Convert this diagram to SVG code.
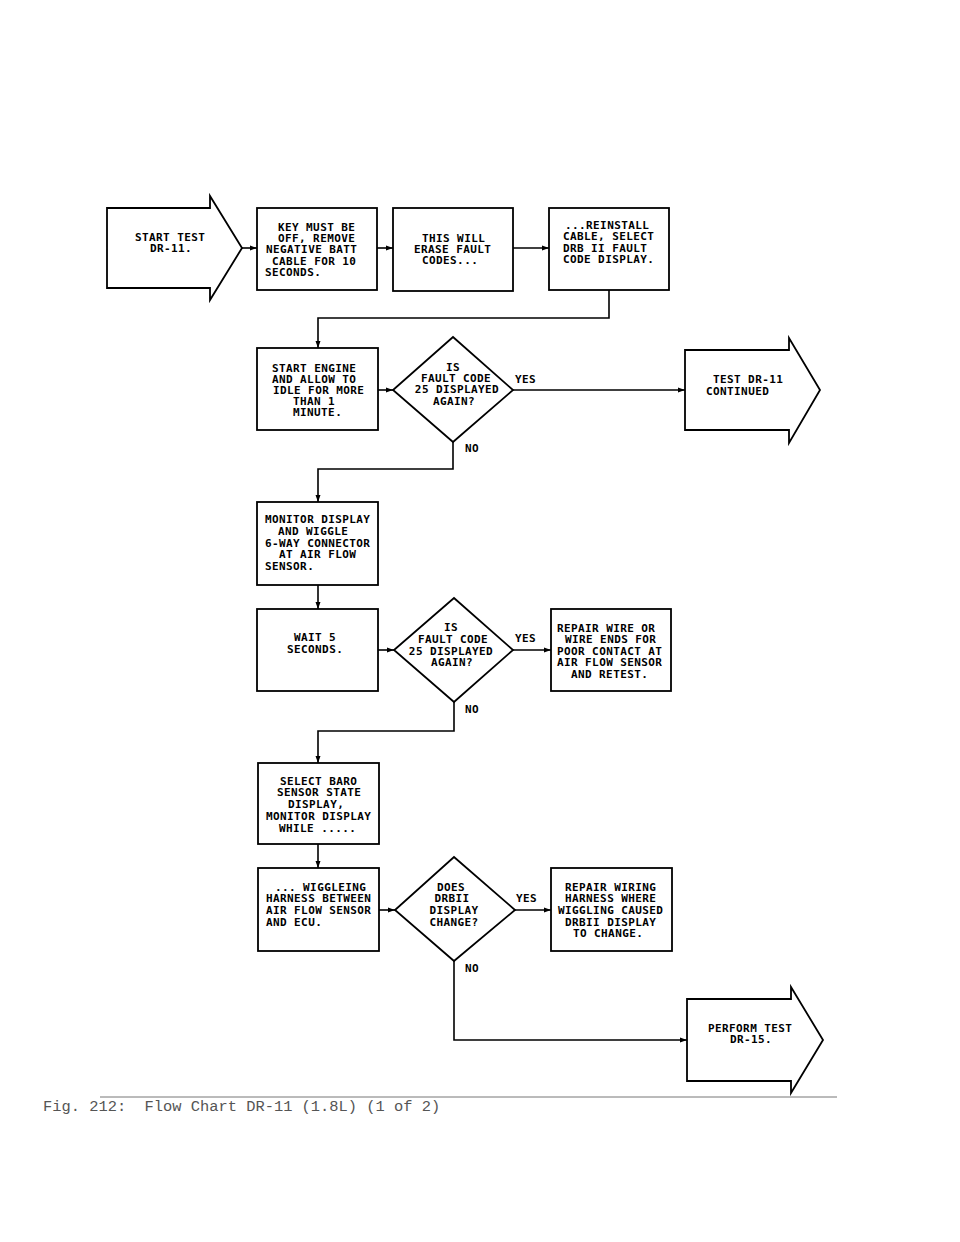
<svg xmlns="http://www.w3.org/2000/svg" width="960" height="1242" viewBox="0 0 960 1242">
<style>
.s{fill:#fff;stroke:#000;stroke-width:1.8;stroke-linejoin:miter}
.c{fill:none;stroke:#000;stroke-width:1.6}
.t{font-family:"DejaVu Sans Mono","Liberation Mono",monospace;font-size:11px;font-weight:bold;letter-spacing:0.4px;fill:#000}
.m{text-anchor:middle}
.cap{font-family:"Liberation Mono","Courier New",monospace;font-size:15.4px;fill:#555}
</style>
<defs>
<marker id="ah" markerUnits="userSpaceOnUse" markerWidth="8" markerHeight="6" refX="7" refY="3" orient="auto">
<path d="M0,0.5 L7,3 L0,5.5 Z" fill="#000"/>
</marker>
</defs>
<rect width="960" height="1242" fill="#fff"/>

<g id="connectors">
<path class="c" d="M242,248 H257" marker-end="url(#ah)"/>
<path class="c" d="M377,248 H393" marker-end="url(#ah)"/>
<path class="c" d="M513,248 H549" marker-end="url(#ah)"/>
<path class="c" d="M609,290 V318 H318 V348" marker-end="url(#ah)"/>
<path class="c" d="M378,390 H393" marker-end="url(#ah)"/>
<path class="c" d="M513,390 H685" marker-end="url(#ah)"/>
<path class="c" d="M453,442 V469 H318 V502" marker-end="url(#ah)"/>
<path class="c" d="M318,585 V609" marker-end="url(#ah)"/>
<path class="c" d="M378,650 H394" marker-end="url(#ah)"/>
<path class="c" d="M513,650 H551" marker-end="url(#ah)"/>
<path class="c" d="M454,702 V731 H318 V763" marker-end="url(#ah)"/>
<path class="c" d="M318,844 V868" marker-end="url(#ah)"/>
<path class="c" d="M379,910 H395" marker-end="url(#ah)"/>
<path class="c" d="M515,910 H551" marker-end="url(#ah)"/>
<path class="c" d="M454,961 V1040 H687" marker-end="url(#ah)"/>
<text class="t" x="515" y="383">YES</text>
<text class="t" x="465" y="452">NO</text>
<text class="t" x="515" y="642">YES</text>
<text class="t" x="465" y="713">NO</text>
<text class="t" x="516" y="902">YES</text>
<text class="t" x="465" y="972">NO</text>
</g>

<g id="start">
<polygon class="s" points="107,208 210,208 210,196 242,248 210,300 210,288 107,288"/>
<text class="t" x="135" y="241">START TEST</text>
<text class="t" x="150" y="252">DR-11.</text>
</g>

<g id="box1">
<rect class="s" x="257" y="208" width="120" height="82"/>
<text class="t" x="278" y="231">KEY MUST BE</text>
<text class="t" x="278" y="242">OFF, REMOVE</text>
<text class="t" x="266" y="253">NEGATIVE BATT</text>
<text class="t" x="272" y="265">CABLE FOR 10</text>
<text class="t" x="265" y="276">SECONDS.</text>
</g>

<g id="box2">
<rect class="s" x="393" y="208" width="120" height="83"/>
<text class="t" x="422" y="242">THIS WILL</text>
<text class="t" x="414" y="253">ERASE FAULT</text>
<text class="t" x="422" y="264">CODES...</text>
</g>

<g id="box3">
<rect class="s" x="549" y="208" width="120" height="82"/>
<text class="t" x="565" y="229">...REINSTALL</text>
<text class="t" x="563" y="240">CABLE, SELECT</text>
<text class="t" x="563" y="252">DRB II FAULT</text>
<text class="t" x="563" y="263">CODE DISPLAY.</text>
</g>

<g id="box4">
<rect class="s" x="257" y="348" width="121" height="82"/>
<text class="t" x="272" y="372">START ENGINE</text>
<text class="t" x="272" y="383">AND ALLOW TO</text>
<text class="t" x="273" y="394">IDLE FOR MORE</text>
<text class="t" x="293" y="405">THAN 1</text>
<text class="t" x="293" y="416">MINUTE.</text>
</g>

<g id="dec1">
<polygon class="s" points="453,337 513,390 453,442 393,390"/>
<text class="t m" x="453" y="371">IS</text>
<text class="t m" x="456" y="382">FAULT CODE</text>
<text class="t m" x="457" y="393">25 DISPLAYED</text>
<text class="t m" x="454" y="405">AGAIN?</text>
</g>

<g id="cont">
<polygon class="s" points="685,350 789,350 789,338 820,390 789,443 789,430 685,430"/>
<text class="t" x="713" y="383">TEST DR-11</text>
<text class="t" x="706" y="395">CONTINUED</text>
</g>

<g id="box5">
<rect class="s" x="257" y="502" width="121" height="83"/>
<text class="t" x="265" y="523">MONITOR DISPLAY</text>
<text class="t" x="278" y="535">AND WIGGLE</text>
<text class="t" x="265" y="547">6-WAY CONNECTOR</text>
<text class="t" x="279" y="558">AT AIR FLOW</text>
<text class="t" x="265" y="570">SENSOR.</text>
</g>

<g id="box6">
<rect class="s" x="257" y="609" width="121" height="82"/>
<text class="t" x="294" y="641">WAIT 5</text>
<text class="t" x="287" y="653">SECONDS.</text>
</g>

<g id="dec2">
<polygon class="s" points="454,598 513,650 454,702 394,650"/>
<text class="t m" x="451" y="631">IS</text>
<text class="t m" x="453" y="643">FAULT CODE</text>
<text class="t m" x="451" y="655">25 DISPLAYED</text>
<text class="t m" x="452" y="666">AGAIN?</text>
</g>

<g id="box7">
<rect class="s" x="551" y="609" width="120" height="82"/>
<text class="t" x="557" y="632">REPAIR WIRE OR</text>
<text class="t" x="565" y="643">WIRE ENDS FOR</text>
<text class="t" x="557" y="655">POOR CONTACT AT</text>
<text class="t" x="557" y="666">AIR FLOW SENSOR</text>
<text class="t" x="571" y="678">AND RETEST.</text>
</g>

<g id="box8">
<rect class="s" x="258" y="763" width="121" height="81"/>
<text class="t" x="280" y="785">SELECT BARO</text>
<text class="t" x="277" y="796">SENSOR STATE</text>
<text class="t" x="288" y="808">DISPLAY,</text>
<text class="t" x="266" y="820">MONITOR DISPLAY</text>
<text class="t" x="279" y="832">WHILE .....</text>
</g>

<g id="box9">
<rect class="s" x="258" y="868" width="121" height="83"/>
<text class="t" x="275" y="891">... WIGGLEING</text>
<text class="t" x="266" y="902">HARNESS BETWEEN</text>
<text class="t" x="266" y="914">AIR FLOW SENSOR</text>
<text class="t" x="266" y="926">AND ECU.</text>
</g>

<g id="dec3">
<polygon class="s" points="454,857 515,910 454,961 395,910"/>
<text class="t m" x="451" y="891">DOES</text>
<text class="t m" x="452" y="902">DRBII</text>
<text class="t m" x="454" y="914">DISPLAY</text>
<text class="t m" x="454" y="926">CHANGE?</text>
</g>

<g id="box10">
<rect class="s" x="551" y="868" width="121" height="83"/>
<text class="t" x="565" y="891">REPAIR WIRING</text>
<text class="t" x="565" y="902">HARNESS WHERE</text>
<text class="t" x="558" y="914">WIGGLING CAUSED</text>
<text class="t" x="565" y="926">DRBII DISPLAY</text>
<text class="t" x="573" y="937">TO CHANGE.</text>
</g>

<g id="perform">
<polygon class="s" points="687,999 791,999 791,987 823,1040 791,1093 791,1081 687,1081"/>
<text class="t" x="708" y="1032">PERFORM TEST</text>
<text class="t" x="730" y="1043">DR-15.</text>
</g>

<g id="caption">
<line x1="100" y1="1097" x2="837" y2="1097" stroke="#777" stroke-width="1"/>
<text class="cap" x="43" y="1111" xml:space="preserve">Fig. 212:  Flow Chart DR-11 (1.8L) (1 of 2)</text>
</g>
</svg>
